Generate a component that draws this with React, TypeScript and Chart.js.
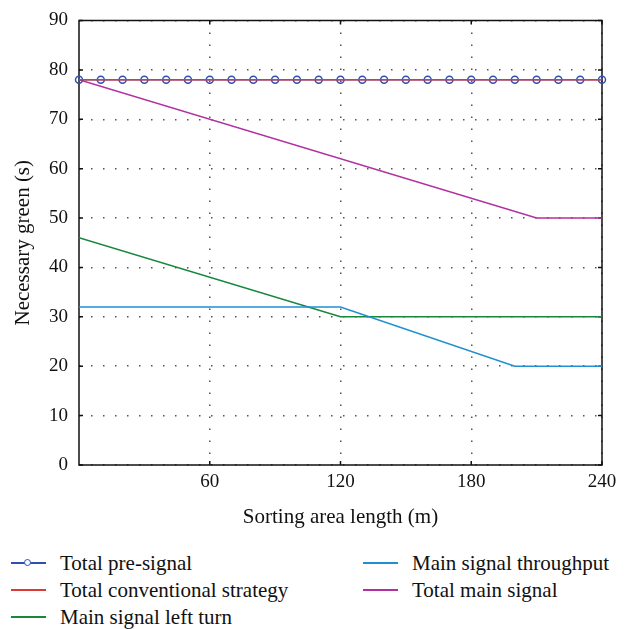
import React, { useEffect, useRef } from "react";
import { Chart, registerables } from "chart.js";

Chart.register(...registerables);

const preSignalX = [0, 10, 20, 30, 40, 50, 60, 70, 80, 90, 100, 110, 120, 130, 140, 150, 160, 170, 180, 190, 200, 210, 220, 230, 240];
const preSignalY = [78, 78, 78, 78, 78, 78, 78, 78, 78, 78, 78, 78, 78, 78, 78, 78, 78, 78, 78, 78, 78, 78, 78, 78, 78];
const conventionalX = [0, 240];
const conventionalY = [78, 78];
const leftTurnX = [0, 120, 240];
const leftTurnY = [46, 30, 30];
const throughputX = [0, 120, 200, 240];
const throughputY = [32, 32, 20, 20];
const mainTotalX = [0, 210, 240];
const mainTotalY = [78, 50, 50];

const xTicks = [60, 120, 180, 240];
const yTicks = [0, 10, 20, 30, 40, 50, 60, 70, 80, 90];

const seriesNames = [
  "Total pre-signal",
  "Total conventional strategy",
  "Main signal left turn",
  "Main signal throughput",
  "Total main signal",
];
const colors = ["#2f4fb5", "#dc3a36", "#17873c", "#1f8fd3", "#b2309f"];

const FONT = "'Liberation Serif', 'DejaVu Serif', serif";

const toPts = (xs: number[], ys: number[]) => xs.map((x, i) => ({ x, y: ys[i] }));

const framePlugin = {
  id: "frame",
  beforeDatasetsDraw(chart: any) {
    const { ctx, chartArea } = chart;
    const { left, right, top, bottom } = chartArea;
    const xs = chart.scales.x;
    const ys = chart.scales.y;
    ctx.save();
    ctx.strokeStyle = "#111";
    ctx.lineWidth = 1.5;
    ctx.setLineDash([]);
    ctx.strokeRect(left, top, right - left, bottom - top);
    const tl = 4;
    ctx.beginPath();
    yTicks.forEach((v) => {
      const y = ys.getPixelForValue(v);
      ctx.moveTo(left, y);
      ctx.lineTo(left + tl, y);
      ctx.moveTo(right, y);
      ctx.lineTo(right - tl, y);
    });
    xTicks.forEach((v) => {
      const x = xs.getPixelForValue(v);
      ctx.moveTo(x, bottom);
      ctx.lineTo(x, bottom - tl);
      ctx.moveTo(x, top);
      ctx.lineTo(x, top + tl);
    });
    ctx.stroke();
    ctx.restore();
  },
};

export default function App() {
  const ref = useRef<HTMLCanvasElement | null>(null);

  useEffect(() => {
    if (!ref.current) return;
    const lineDs = (label: string, pts: any[], color: string) => ({
      label,
      data: pts,
      borderColor: color,
      backgroundColor: color,
      borderWidth: 1.5,
      pointRadius: 0,
      tension: 0,
    });
    // Chart.js draws dataset 0 on top
    const chart = new Chart(ref.current, {
      type: "line",
      data: {
        datasets: [
          lineDs(seriesNames[1], toPts(conventionalX, conventionalY), colors[1]),
          {
            label: seriesNames[0],
            data: toPts(preSignalX, preSignalY),
            borderColor: colors[0],
            backgroundColor: "rgba(0,0,0,0)",
            borderWidth: 1.5,
            pointRadius: 3.5,
            pointBorderWidth: 1.5,
            pointBorderColor: colors[0],
            pointBackgroundColor: "rgba(0,0,0,0)",
            clip: false,
          },
          lineDs(seriesNames[4], toPts(mainTotalX, mainTotalY), colors[4]),
          lineDs(seriesNames[3], toPts(throughputX, throughputY), colors[3]),
          lineDs(seriesNames[2], toPts(leftTurnX, leftTurnY), colors[2]),
        ] as any,
      },
      options: {
        animation: false,
        responsive: false,
        maintainAspectRatio: false,
        layout: { padding: { left: 0, right: 31, top: 17, bottom: 0 } },
        plugins: { legend: { display: false }, tooltip: { enabled: false } },
        scales: {
          x: {
            type: "linear",
            min: 0,
            max: 240,
            afterFit: (s: any) => {
              s.height = 75;
            },
            afterBuildTicks: (s: any) => {
              s.ticks = xTicks.map((v) => ({ value: v }));
            },
            ticks: {
              padding: 6,
              color: "#111",
              font: { family: FONT, size: 19 },
              maxRotation: 0,
            },
            grid: { color: "#555", lineWidth: 1.5, drawTicks: false },
            border: { display: false, dash: [1.5, 10.5] },
            title: {
              display: true,
              text: "Sorting area length (m)",
              color: "#111",
              font: { family: FONT, size: 21 },
              padding: { top: 0, bottom: 10 },
            },
          },
          y: {
            type: "linear",
            min: 0,
            max: 90,
            afterFit: (s: any) => {
              s.width = 79;
            },
            afterBuildTicks: (s: any) => {
              s.ticks = yTicks.map((v) => ({ value: v }));
            },
            ticks: {
              padding: 11,
              color: "#111",
              font: { family: FONT, size: 19, lineHeight: 1 },
            },
            grid: { color: "#555", lineWidth: 1.5, drawTicks: false },
            border: { display: false, dash: [1.5, 10.5] },
            title: {
              display: true,
              text: "Necessary green (s)",
              color: "#111",
              font: { family: FONT, size: 21 },
              padding: { top: 11, bottom: 0 },
            },
          },
        },
      } as any,
      plugins: [framePlugin],
    });
    return () => chart.destroy();
  }, []);

  const legendRows = [
    { idx: 0, left: 11, top: 563 },
    { idx: 1, left: 11, top: 590 },
    { idx: 2, left: 11, top: 617 },
    { idx: 3, left: 363, top: 563 },
    { idx: 4, left: 363, top: 590 },
  ];

  return (
    <div style={{ position: "absolute", left: 0, top: 0, width: 633, height: 629, background: "#fff", fontFamily: FONT }}>
      <canvas ref={ref} width={633} height={540} style={{ position: "absolute", left: 0, top: 0, width: 633, height: 540 }} />
      {legendRows.map((r) => (
        <div key={r.idx} style={{ position: "absolute", left: r.left, top: r.top - 13, height: 26, display: "flex", alignItems: "center", whiteSpace: "nowrap" }}>
          <div style={{ position: "relative", width: 35, height: 26, marginRight: 14 }}>
            <div style={{ position: "absolute", left: 0, top: 12, width: 35, height: 1.5, background: colors[r.idx] }} />
            {r.idx === 0 && (
              <div style={{ position: "absolute", left: 13, top: 9, width: 5, height: 5, borderRadius: "50%", border: `1.5px solid ${colors[0]}`, background: "#fff" }} />
            )}
          </div>
          <span style={{ fontSize: 21, lineHeight: "26px", color: "#111" }}>{seriesNames[r.idx]}</span>
        </div>
      ))}
    </div>
  );
}
